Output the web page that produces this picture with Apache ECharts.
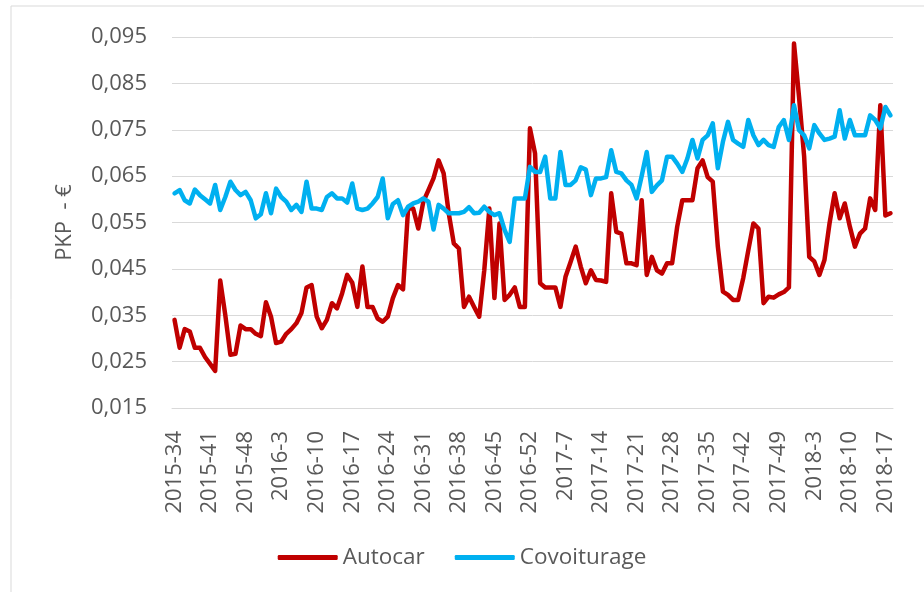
<!DOCTYPE html>
<html>
<head>
<meta charset="utf-8">
<style>
  html, body { margin: 0; padding: 0; background: #fff; }
  #chart { width: 924px; height: 592px; }
</style>
<script src="https://cdn.jsdelivr.net/npm/echarts@6/dist/echarts.min.js"></script>
</head>
<body>
<div id="chart"></div>
<script>
// semaines ISO : [année, première, dernière]
const weekRanges = [[2015, 34, 52], [2016, 1, 52], [2017, 1, 53], [2018, 1, 18]];
const weeks = [];
weekRanges.forEach(function (r) {
    for (let w = r[1]; w <= r[2]; w++) weeks.push(r[0] + '-' + w);
});

const autocar = [
    0.034, 0.028, 0.032, 0.0315, 0.028, 0.028, 0.026, 0.0245, 0.023, 0.0425,
    0.035, 0.0265, 0.0267, 0.0328, 0.032, 0.032, 0.031, 0.0305, 0.0378, 0.0347,
    0.029, 0.0293, 0.031, 0.032, 0.0333, 0.0355, 0.041, 0.0415, 0.0347, 0.0322,
    0.034, 0.0376, 0.0365, 0.0397, 0.0437, 0.042, 0.0368, 0.0455, 0.0368, 0.0368,
    0.0343, 0.0336, 0.0347, 0.0387, 0.0415, 0.0406, 0.058, 0.058, 0.0537, 0.0595,
    0.062, 0.0645, 0.0684, 0.0656, 0.057, 0.0505, 0.0494, 0.0368, 0.039, 0.0368,
    0.0347, 0.0447, 0.058, 0.0387, 0.0548, 0.0383, 0.0394, 0.041, 0.0368, 0.0368,
    0.0753, 0.0699, 0.0419, 0.041, 0.041, 0.041, 0.0368, 0.0433, 0.0465, 0.0498,
    0.0455, 0.0419, 0.0447, 0.0426, 0.0425, 0.0422, 0.0613, 0.053, 0.0526, 0.0462,
    0.0462, 0.0458, 0.0598, 0.0437, 0.0476, 0.0447, 0.044, 0.0462, 0.0462, 0.0541,
    0.0598, 0.0598, 0.0598, 0.0667, 0.0684, 0.0648, 0.0638, 0.0498, 0.0401, 0.0394,
    0.0383, 0.0383, 0.043, 0.049, 0.0548, 0.0537, 0.0376, 0.039, 0.0388, 0.0395,
    0.040, 0.041, 0.0936, 0.082, 0.0692, 0.0476, 0.0466, 0.0437, 0.0469, 0.0548,
    0.0613, 0.0559, 0.0591, 0.0541, 0.0498, 0.0526, 0.0537, 0.0602, 0.0577, 0.0803,
    0.0565, 0.057
];

const covoiturage = [
    0.0613, 0.062, 0.0598, 0.0591, 0.0621, 0.0609, 0.060, 0.0591, 0.0631, 0.0577,
    0.0605, 0.0638, 0.062, 0.0609, 0.0616, 0.0598, 0.0559, 0.0568, 0.0613, 0.057,
    0.0623, 0.0605, 0.0595, 0.0577, 0.0588, 0.0573, 0.0638, 0.058, 0.058, 0.0577,
    0.0605, 0.0613, 0.0602, 0.0602, 0.0593, 0.0634, 0.058, 0.0577, 0.058, 0.0591,
    0.0605, 0.0645, 0.0559, 0.059, 0.0598, 0.0566, 0.0584, 0.0591, 0.0595, 0.0602,
    0.0595, 0.0535, 0.0588, 0.058, 0.057, 0.057, 0.057, 0.0573, 0.0583, 0.057,
    0.0571, 0.0584, 0.0573, 0.0566, 0.057, 0.0534, 0.0508, 0.0602, 0.0602, 0.0602,
    0.067, 0.0659, 0.0659, 0.0692, 0.0602, 0.0602, 0.0702, 0.0631, 0.0631, 0.0641,
    0.0669, 0.0664, 0.0609, 0.0645, 0.0645, 0.0648, 0.0706, 0.0659, 0.0656, 0.0641,
    0.0631, 0.0602, 0.065, 0.0702, 0.0616, 0.063, 0.0641, 0.0692, 0.0692, 0.0677,
    0.0659, 0.0688, 0.0728, 0.0688, 0.0728, 0.0738, 0.0764, 0.0667, 0.0724, 0.0767,
    0.0728, 0.072, 0.0713, 0.0771, 0.0738, 0.0717, 0.0728, 0.0717, 0.0713, 0.0756,
    0.0771, 0.0728, 0.0803, 0.0749, 0.0738, 0.071, 0.076, 0.0742, 0.0728, 0.0731,
    0.0735, 0.0792, 0.0731, 0.0771, 0.0738, 0.0738, 0.0738, 0.0781, 0.0771, 0.0753,
    0.0799, 0.0781
];

const font = '"Open Sans", "Noto Sans", sans-serif';
const textColor = '#595959';

let mychart = echarts.init(document.getElementById('chart'));
mychart.setOption({
    animation: false,
    backgroundColor: '#fff',
    textStyle: { fontFamily: font },
    graphic: [{
        type: 'rect',
        shape: { x: 11, y: 6, width: 930, height: 600 },
        style: { fill: 'none', stroke: '#d9d9d9', lineWidth: 1 },
        silent: true
    }],
    grid: {
        left: 172,
        right: 31,
        top: 37,
        bottom: 184
    },
    legend: {
        left: 'center',
        top: 541,
        icon: 'roundRect',
        itemWidth: 60,
        itemHeight: 5,
        itemGap: 30,
        textStyle: { color: textColor, fontSize: 22.5, fontFamily: font },
        data: ['Autocar', 'Covoiturage']
    },
    xAxis: {
        type: 'category',
        data: weeks,
        boundaryGap: true,
        axisLine: { lineStyle: { color: '#d9d9d9', width: 1 } },
        axisTick: { show: false },
        axisLabel: {
            interval: 6,
            rotate: 90,
            margin: 23,
            color: textColor,
            fontSize: 22,
            fontFamily: font
        }
    },
    yAxis: {
        type: 'value',
        min: 0.015,
        max: 0.095,
        interval: 0.01,
        name: 'PKP  - €',
        nameLocation: 'middle',
        nameGap: 96,
        nameTextStyle: { color: textColor, fontSize: 22, fontFamily: font },
        axisLine: { show: false },
        axisTick: { show: false },
        splitLine: { lineStyle: { color: '#d9d9d9', width: 1 } },
        axisLabel: {
            margin: 25,
            color: textColor,
            fontSize: 22,
            fontFamily: font,
            formatter: function (v) {
                return v.toFixed(3).replace('.', ',');
            }
        }
    },
    series: [
        {
            name: 'Autocar',
            type: 'line',
            data: autocar,
            showSymbol: false,
            symbol: 'none',
            color: '#C00000',
            lineStyle: { width: 4.5, color: '#C00000', join: 'round', cap: 'round' }
        },
        {
            name: 'Covoiturage',
            type: 'line',
            data: covoiturage,
            showSymbol: false,
            symbol: 'none',
            color: '#00B0F0',
            lineStyle: { width: 4.5, color: '#00B0F0', join: 'round', cap: 'round' }
        }
    ]
});
</script>
</body>
</html>
